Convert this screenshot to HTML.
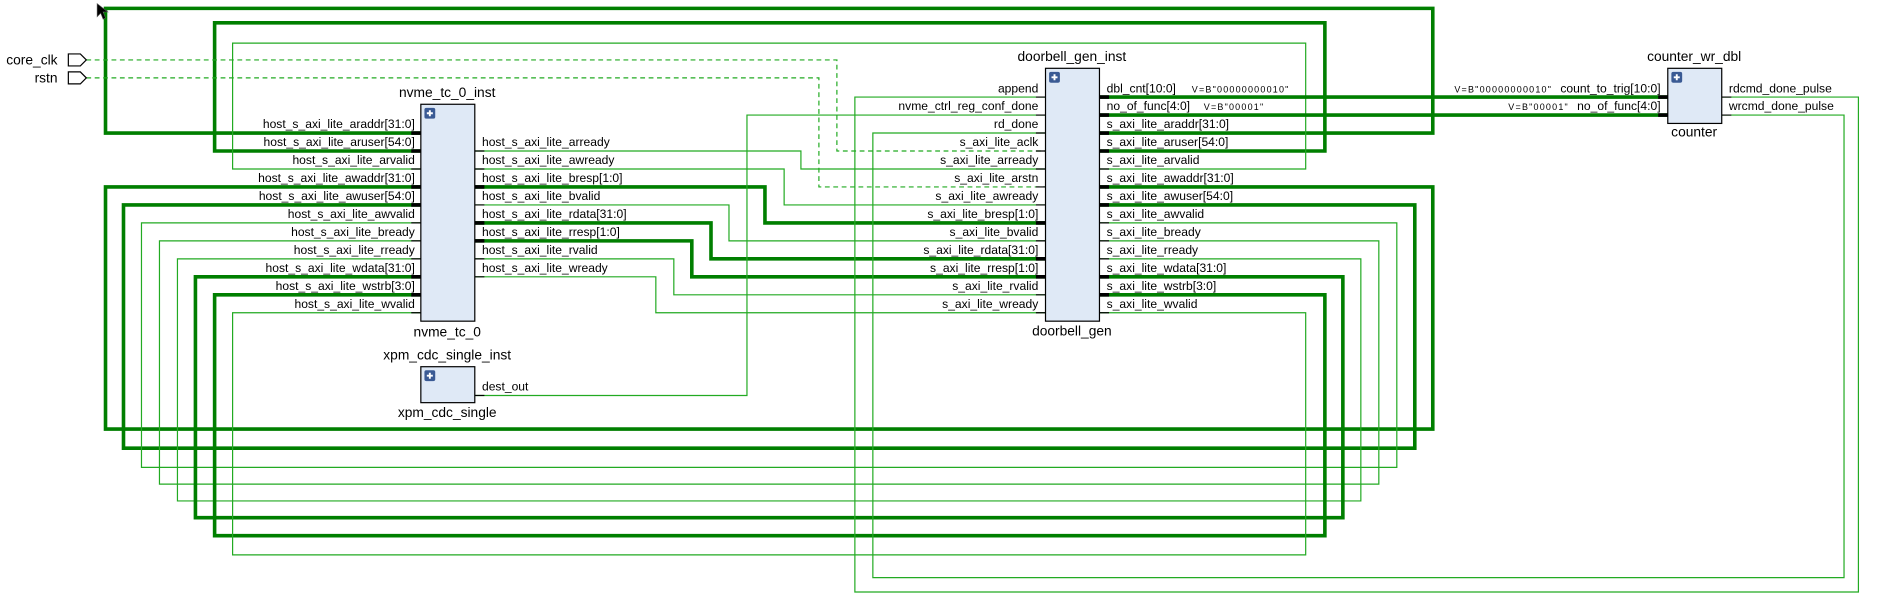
<!DOCTYPE html>
<html><head><meta charset="utf-8"><style>
html,body{margin:0;padding:0;background:#fff;}
svg{display:block}
text{font-family:"Liberation Sans","DejaVu Sans",sans-serif;font-size:10.1px;fill:#000}
.t{fill:none;stroke:#22aa22;stroke-width:1}
.T{fill:none;stroke:#007f00;stroke-width:3}
.d{fill:none;stroke:#22aa22;stroke-width:1;stroke-dasharray:4 3}
.s{stroke:#000;stroke-width:1}
.S{stroke:#000;stroke-width:3}
.box{fill:#dfe9f6;stroke:#000;stroke-width:1}
.c{font-size:7.5px;letter-spacing:1px}
.n{font-size:11.5px}
</style></head><body>
<svg width="1880" height="598" viewBox="0 0 1568 499" preserveAspectRatio="none" xmlns="http://www.w3.org/2000/svg">
<rect width="1568" height="499" fill="#fff"/>
<path class="T" d="M351 111 H88 V7 H1195 V111 H917"/>
<path class="T" d="M351 126 H179 V19 H1105 V126 H917"/>
<path class="t" d="M351 141 H194 V36 H1089 V141 H917"/>
<path class="T" d="M351 156 H88 V358 H1195 V156 H917"/>
<path class="T" d="M351 171 H103 V374 H1180 V171 H917"/>
<path class="t" d="M351 186 H118 V390 H1165 V186 H917"/>
<path class="t" d="M351 201 H133 V404 H1150 V201 H917"/>
<path class="t" d="M351 216 H148 V418 H1135 V216 H917"/>
<path class="T" d="M351 231 H163 V432 H1120 V231 H917"/>
<path class="T" d="M351 246 H179 V447 H1105 V246 H917"/>
<path class="t" d="M351 261 H194 V463 H1089 V261 H917"/>
<path class="t" d="M396 126 H668 V141 H872"/>
<path class="t" d="M396 141 H654 V171 H872"/>
<path class="T" d="M396 156 H638 V186 H872"/>
<path class="t" d="M396 171 H608 V201 H872"/>
<path class="T" d="M396 186 H593 V216 H872"/>
<path class="T" d="M396 201 H577 V231 H872"/>
<path class="t" d="M396 216 H562 V246 H872"/>
<path class="t" d="M396 231 H547 V261 H872"/>
<path class="t" d="M396 330 H623 V96 H872"/>
<path class="d" d="M72 50 H698 V126 H872"/>
<path class="d" d="M72 65 H683 V156 H872"/>
<path class="t" d="M1436 81 H1550 V494 H713 V81 H872"/>
<path class="t" d="M1436 96 H1538 V482 H728 V111 H872"/>
<path class="T" d="M917 81 H1391"/>
<path class="T" d="M917 96 H1391"/>

<path d="M57 45 H67 L72 50 L67 55 H57 Z" fill="#fff" stroke="#000"/>
<path d="M57 60 H67 L72 65 L67 70 H57 Z" fill="#fff" stroke="#000"/>
<text x="48" y="54" text-anchor="end" class="n">core_clk</text>
<text x="48" y="69" text-anchor="end" class="n">rstn</text>

<path d="M81 3 L81 14 L84 11 L86 16 L88 15 L86 10 L90 10 Z" fill="#000" stroke="#555" stroke-width="0.5"/>

<g>
<path class="S" d="M343 111 H351 M343 126 H351 M343 156 H351 M343 171 H351 M343 231 H351 M343 246 H351"/>
<path class="s" d="M343 141 H351 M343 186 H351 M343 201 H351 M343 216 H351 M343 261 H351"/>
<path class="S" d="M396 156 H404 M396 186 H404 M396 201 H404"/>
<path class="s" d="M396 126 H404 M396 141 H404 M396 171 H404 M396 216 H404 M396 231 H404"/>
<rect class="box" x="351" y="87" width="45" height="181"/>
<rect x="354" y="90" width="9" height="9" rx="1.5" fill="#3a5a94"/>
<path d="M358.5 92 V97 M356 94.5 H361" stroke="#fff" stroke-width="1.6"/>
<text x="373" y="81" text-anchor="middle" class="n">nvme_tc_0_inst</text>
<text x="373" y="281" text-anchor="middle" class="n">nvme_tc_0</text>
<g text-anchor="end">
<text x="346" y="107">host_s_axi_lite_araddr[31:0]</text>
<text x="346" y="122">host_s_axi_lite_aruser[54:0]</text>
<text x="346" y="137">host_s_axi_lite_arvalid</text>
<text x="346" y="152">host_s_axi_lite_awaddr[31:0]</text>
<text x="346" y="167">host_s_axi_lite_awuser[54:0]</text>
<text x="346" y="182">host_s_axi_lite_awvalid</text>
<text x="346" y="197">host_s_axi_lite_bready</text>
<text x="346" y="212">host_s_axi_lite_rready</text>
<text x="346" y="227">host_s_axi_lite_wdata[31:0]</text>
<text x="346" y="242">host_s_axi_lite_wstrb[3:0]</text>
<text x="346" y="257">host_s_axi_lite_wvalid</text>
</g>
<text x="402" y="122">host_s_axi_lite_arready</text>
<text x="402" y="137">host_s_axi_lite_awready</text>
<text x="402" y="152">host_s_axi_lite_bresp[1:0]</text>
<text x="402" y="167">host_s_axi_lite_bvalid</text>
<text x="402" y="182">host_s_axi_lite_rdata[31:0]</text>
<text x="402" y="197">host_s_axi_lite_rresp[1:0]</text>
<text x="402" y="212">host_s_axi_lite_rvalid</text>
<text x="402" y="227">host_s_axi_lite_wready</text>
</g>

<path class="s" d="M396 330 H404"/>
<rect class="box" x="351" y="306" width="45" height="30"/>
<rect x="354" y="309" width="9" height="9" rx="1.5" fill="#3a5a94"/>
<path d="M358.5 311 V316 M356 313.5 H361" stroke="#fff" stroke-width="1.6"/>
<text x="373" y="300" text-anchor="middle" class="n">xpm_cdc_single_inst</text>
<text x="373" y="348" text-anchor="middle" class="n">xpm_cdc_single</text>
<text x="402" y="326">dest_out</text>

<path class="s" d="M864 81 H872 M864 96 H872 M864 111 H872 M864 126 H872 M864 141 H872 M864 156 H872 M864 171 H872 M864 201 H872 M864 246 H872 M864 261 H872"/>
<path class="S" d="M864 186 H872 M864 216 H872 M864 231 H872"/>
<path class="S" d="M917 81 H925 M917 96 H925 M917 111 H925 M917 126 H925 M917 156 H925 M917 171 H925 M917 231 H925 M917 246 H925"/>
<path class="s" d="M917 141 H925 M917 186 H925 M917 201 H925 M917 216 H925 M917 261 H925"/>
<rect class="box" x="872" y="57" width="45" height="211"/>
<rect x="875" y="60" width="9" height="9" rx="1.5" fill="#3a5a94"/>
<path d="M879.5 62 V67 M877 64.5 H882" stroke="#fff" stroke-width="1.6"/>
<text x="894" y="51" text-anchor="middle" class="n">doorbell_gen_inst</text>
<text x="894" y="280" text-anchor="middle" class="n">doorbell_gen</text>
<g text-anchor="end">
<text x="866" y="77">append</text>
<text x="866" y="92">nvme_ctrl_reg_conf_done</text>
<text x="866" y="107">rd_done</text>
<text x="866" y="122">s_axi_lite_aclk</text>
<text x="866" y="137">s_axi_lite_arready</text>
<text x="866" y="152">s_axi_lite_arstn</text>
<text x="866" y="167">s_axi_lite_awready</text>
<text x="866" y="182">s_axi_lite_bresp[1:0]</text>
<text x="866" y="197">s_axi_lite_bvalid</text>
<text x="866" y="212">s_axi_lite_rdata[31:0]</text>
<text x="866" y="227">s_axi_lite_rresp[1:0]</text>
<text x="866" y="242">s_axi_lite_rvalid</text>
<text x="866" y="257">s_axi_lite_wready</text>
</g>
<text x="923" y="77">dbl_cnt[10:0]</text>
<text x="923" y="92">no_of_func[4:0]</text>
<text x="923" y="107">s_axi_lite_araddr[31:0]</text>
<text x="923" y="122">s_axi_lite_aruser[54:0]</text>
<text x="923" y="137">s_axi_lite_arvalid</text>
<text x="923" y="152">s_axi_lite_awaddr[31:0]</text>
<text x="923" y="167">s_axi_lite_awuser[54:0]</text>
<text x="923" y="182">s_axi_lite_awvalid</text>
<text x="923" y="197">s_axi_lite_bready</text>
<text x="923" y="212">s_axi_lite_rready</text>
<text x="923" y="227">s_axi_lite_wdata[31:0]</text>
<text x="923" y="242">s_axi_lite_wstrb[3:0]</text>
<text x="923" y="257">s_axi_lite_wvalid</text>
<text x="994" y="77" class="c">V=B"00000000010"</text>
<text x="1004" y="92" class="c">V=B"00001"</text>
<text x="1213" y="77" class="c">V=B"00000000010"</text>
<text x="1258" y="92" class="c">V=B"00001"</text>

<path class="S" d="M1383 81 H1391 M1383 96 H1391"/>
<path class="s" d="M1436 81 H1444 M1436 96 H1444"/>
<rect class="box" x="1391" y="57" width="45" height="46"/>
<rect x="1394" y="60" width="9" height="9" rx="1.5" fill="#3a5a94"/>
<path d="M1398.5 62 V67 M1396 64.5 H1401" stroke="#fff" stroke-width="1.6"/>
<text x="1413" y="51" text-anchor="middle" class="n">counter_wr_dbl</text>
<text x="1413" y="114" text-anchor="middle" class="n">counter</text>
<text x="1385" y="77" text-anchor="end">count_to_trig[10:0]</text>
<text x="1385" y="92" text-anchor="end">no_of_func[4:0]</text>
<text x="1442" y="77">rdcmd_done_pulse</text>
<text x="1442" y="92">wrcmd_done_pulse</text>
</svg>
</body></html>
